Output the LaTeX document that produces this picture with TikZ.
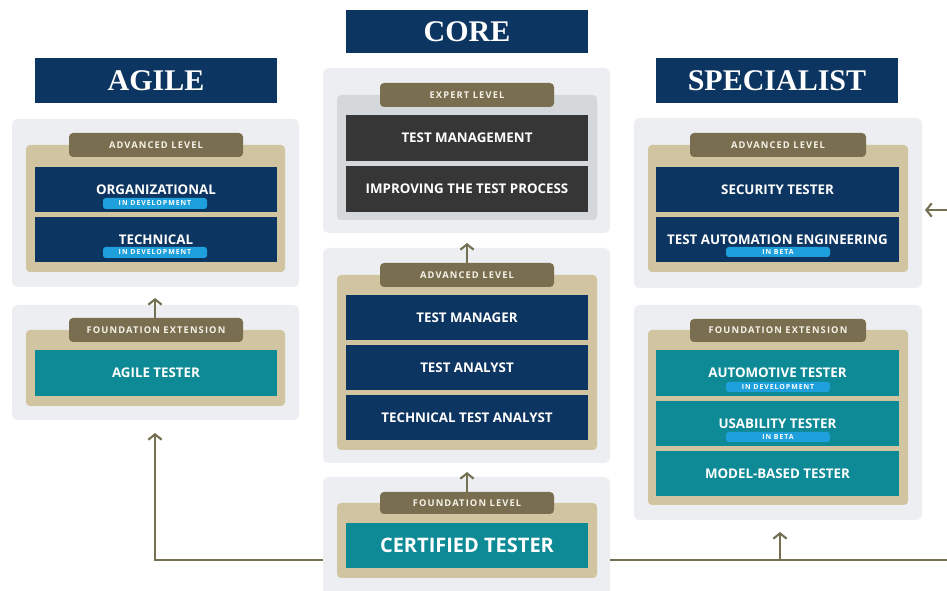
\documentclass[tikz,border=0pt]{standalone}
\usepackage{fontspec}
\setmainfont{Open Sans}
\newfontfamily\hdrfont{Liberation Serif}
\newfontfamily\lblfont[LetterSpace=12]{Open Sans}
\newfontfamily\tagfont[LetterSpace=14]{Open Sans}
\usetikzlibrary{arrows.meta}
\definecolor{navyc}{RGB}{13,53,97}
\definecolor{tealc}{RGB}{14,138,150}
\definecolor{darkc}{RGB}{54,54,54}
\definecolor{tanc}{RGB}{208,197,160}
\definecolor{innergray}{RGB}{212,216,219}
\definecolor{panelc}{RGB}{236,238,241}
\definecolor{olivec}{RGB}{122,110,80}
\definecolor{tagc}{RGB}{30,160,220}
\definecolor{arrowc}{RGB}{117,112,82}
\definecolor{lbltext}{RGB}{245,242,232}
\newcommand\mybox[7]{\node[#1,minimum width={(#5-#3)*0.75pt},minimum height={(#6-#4)*0.75pt}] (#2) at ({(#3+#5)/2},{(#4+#6)/2}) {#7};}
\begin{document}
\begin{tikzpicture}[x=0.75pt,y=-0.75pt,
  base/.style={inner sep=0pt,outer sep=0pt,draw=none,align=center,text=white},
  panel/.style={base,fill=panelc,rounded corners=4pt},
  tanbg/.style={base,fill=tanc,rounded corners=3pt},
  graybg/.style={base,fill=innergray,rounded corners=3pt},
  lvl/.style={base,fill=olivec,rounded corners=3pt,text=lbltext,font=\lblfont\bfseries\fontsize{7}{8}\selectfont},
  navybox/.style={base,fill=navyc,font=\bfseries\fontsize{10}{12}\selectfont},
  tealbox/.style={base,fill=tealc,font=\bfseries\fontsize{10}{12}\selectfont},
  bigteal/.style={base,fill=tealc,font=\bfseries\fontsize{15}{18}\selectfont},
  darkbox/.style={base,fill=darkc,font=\bfseries\fontsize{10}{12}\selectfont},
  tagbox/.style={base,fill=tagc,rounded corners=2pt,font=\tagfont\bfseries\fontsize{5.2}{6}\selectfont},
  hdr/.style={base,fill=navyc,font=\hdrfont\bfseries\fontsize{22.5}{26}\selectfont},
  conn/.style={draw=arrowc,line width=1.6pt},
  arr/.style={conn,-{Straight Barb[length=4pt,width=10pt]}}]
\useasboundingbox[fill=white] (0,0) rectangle (947,591);
% headers
\mybox{hdr}{hcore}{346}{10}{588}{53}{CORE}
\mybox{hdr}{hagile}{35}{58}{277}{103}{AGILE}
\mybox{hdr}{hspec}{656}{58}{898}{103}{SPECIALIST}
% agile advanced
\mybox{panel}{aap}{12}{119}{299}{287}{}
\mybox{tanbg}{aat}{26}{145}{285}{272}{}
\mybox{lvl}{aal}{69}{133}{243}{157}{ADVANCED LEVEL}
\mybox{navybox}{aorg}{35}{167}{277}{212}{ORGANIZATIONAL}
\mybox{tagbox}{aorgt}{103}{198}{207}{209}{IN DEVELOPMENT}
\mybox{navybox}{atech}{35}{217}{277}{262}{TECHNICAL}
\mybox{tagbox}{atecht}{103}{247}{207}{258}{IN DEVELOPMENT}
% agile foundation
\mybox{panel}{afp}{12}{305}{299}{420}{}
\mybox{tanbg}{aft}{26}{330}{285}{406}{}
\mybox{lvl}{afl}{69}{318}{243}{342}{FOUNDATION EXTENSION}
\mybox{tealbox}{agt}{35}{350}{277}{396}{AGILE TESTER}
% core expert
\mybox{panel}{cep}{323}{68}{610}{233}{}
\mybox{graybg}{cet}{337}{95}{597}{220}{}
\mybox{lvl}{cel}{380}{83}{554}{107}{EXPERT LEVEL}
\mybox{darkbox}{ctm}{346}{115}{588}{161}{TEST MANAGEMENT}
\mybox{darkbox}{citp}{346}{166}{588}{212}{IMPROVING THE TEST PROCESS}
% core advanced
\mybox{panel}{cap}{323}{248}{610}{463}{}
\mybox{tanbg}{cat}{337}{275}{597}{450}{}
\mybox{lvl}{cal}{380}{263}{554}{287}{ADVANCED LEVEL}
\mybox{navybox}{ctmgr}{346}{295}{588}{340}{TEST MANAGER}
\mybox{navybox}{cta}{346}{345}{588}{390}{TEST ANALYST}
\mybox{navybox}{ctta}{346}{395}{588}{440}{TECHNICAL TEST ANALYST}
% core foundation
\mybox{panel}{cfp}{323}{477}{610}{596}{}
\mybox{tanbg}{cft}{337}{503}{597}{578}{}
\mybox{lvl}{cfl}{380}{492}{554}{514}{FOUNDATION LEVEL}
\mybox{bigteal}{cct}{346}{523}{588}{568}{CERTIFIED TESTER}
% specialist advanced
\mybox{panel}{sap}{634}{118}{922}{288}{}
\mybox{tanbg}{sat}{648}{145}{908}{272}{}
\mybox{lvl}{sal}{690}{133}{866}{157}{ADVANCED LEVEL}
\mybox{navybox}{sst}{656}{167}{899}{212}{SECURITY TESTER}
\mybox{navybox}{stae}{656}{217}{899}{262}{TEST AUTOMATION ENGINEERING}
\mybox{tagbox}{staet}{726}{247}{830}{257}{IN BETA}
% specialist foundation
\mybox{panel}{sfp}{634}{305}{922}{520}{}
\mybox{tanbg}{sft}{648}{330}{908}{505}{}
\mybox{lvl}{sfl}{690}{319}{866}{342}{FOUNDATION EXTENSION}
\mybox{tealbox}{saut}{656}{350}{899}{396}{AUTOMOTIVE TESTER}
\mybox{tagbox}{sautt}{726}{382}{830}{392}{IN DEVELOPMENT}
\mybox{tealbox}{sut}{656}{401}{899}{446}{USABILITY TESTER}
\mybox{tagbox}{sutt}{726}{432}{830}{442}{IN BETA}
\mybox{tealbox}{smbt}{656}{451}{899}{496}{MODEL-BASED TESTER}
% connectors
\coordinate (t1) at (155,298);
\coordinate (t2) at (467,243);
\coordinate (t3) at (467,472);
\coordinate (j1) at (155,560);
\coordinate (t4) at (155,433);
\coordinate (e1) at (947,560);
\coordinate (b1) at (780,560);
\coordinate (t5) at (780,532);
\coordinate (e2) at (947,210);
\coordinate (t6) at (925,210);
\draw[arr] (afl.north -| t1) -- (t1);
\draw[arr] (cal.north -| t2) -- (t2);
\draw[arr] (cfl.north -| t3) -- (t3);
\draw[arr] (cfp.west |- j1) -- (j1) -- (t4);
\draw[conn] (cfp.east |- e1) -- (e1);
\draw[arr] (b1) -- (t5);
\draw[arr] (e2) -- (t6);
\end{tikzpicture}
\end{document}
